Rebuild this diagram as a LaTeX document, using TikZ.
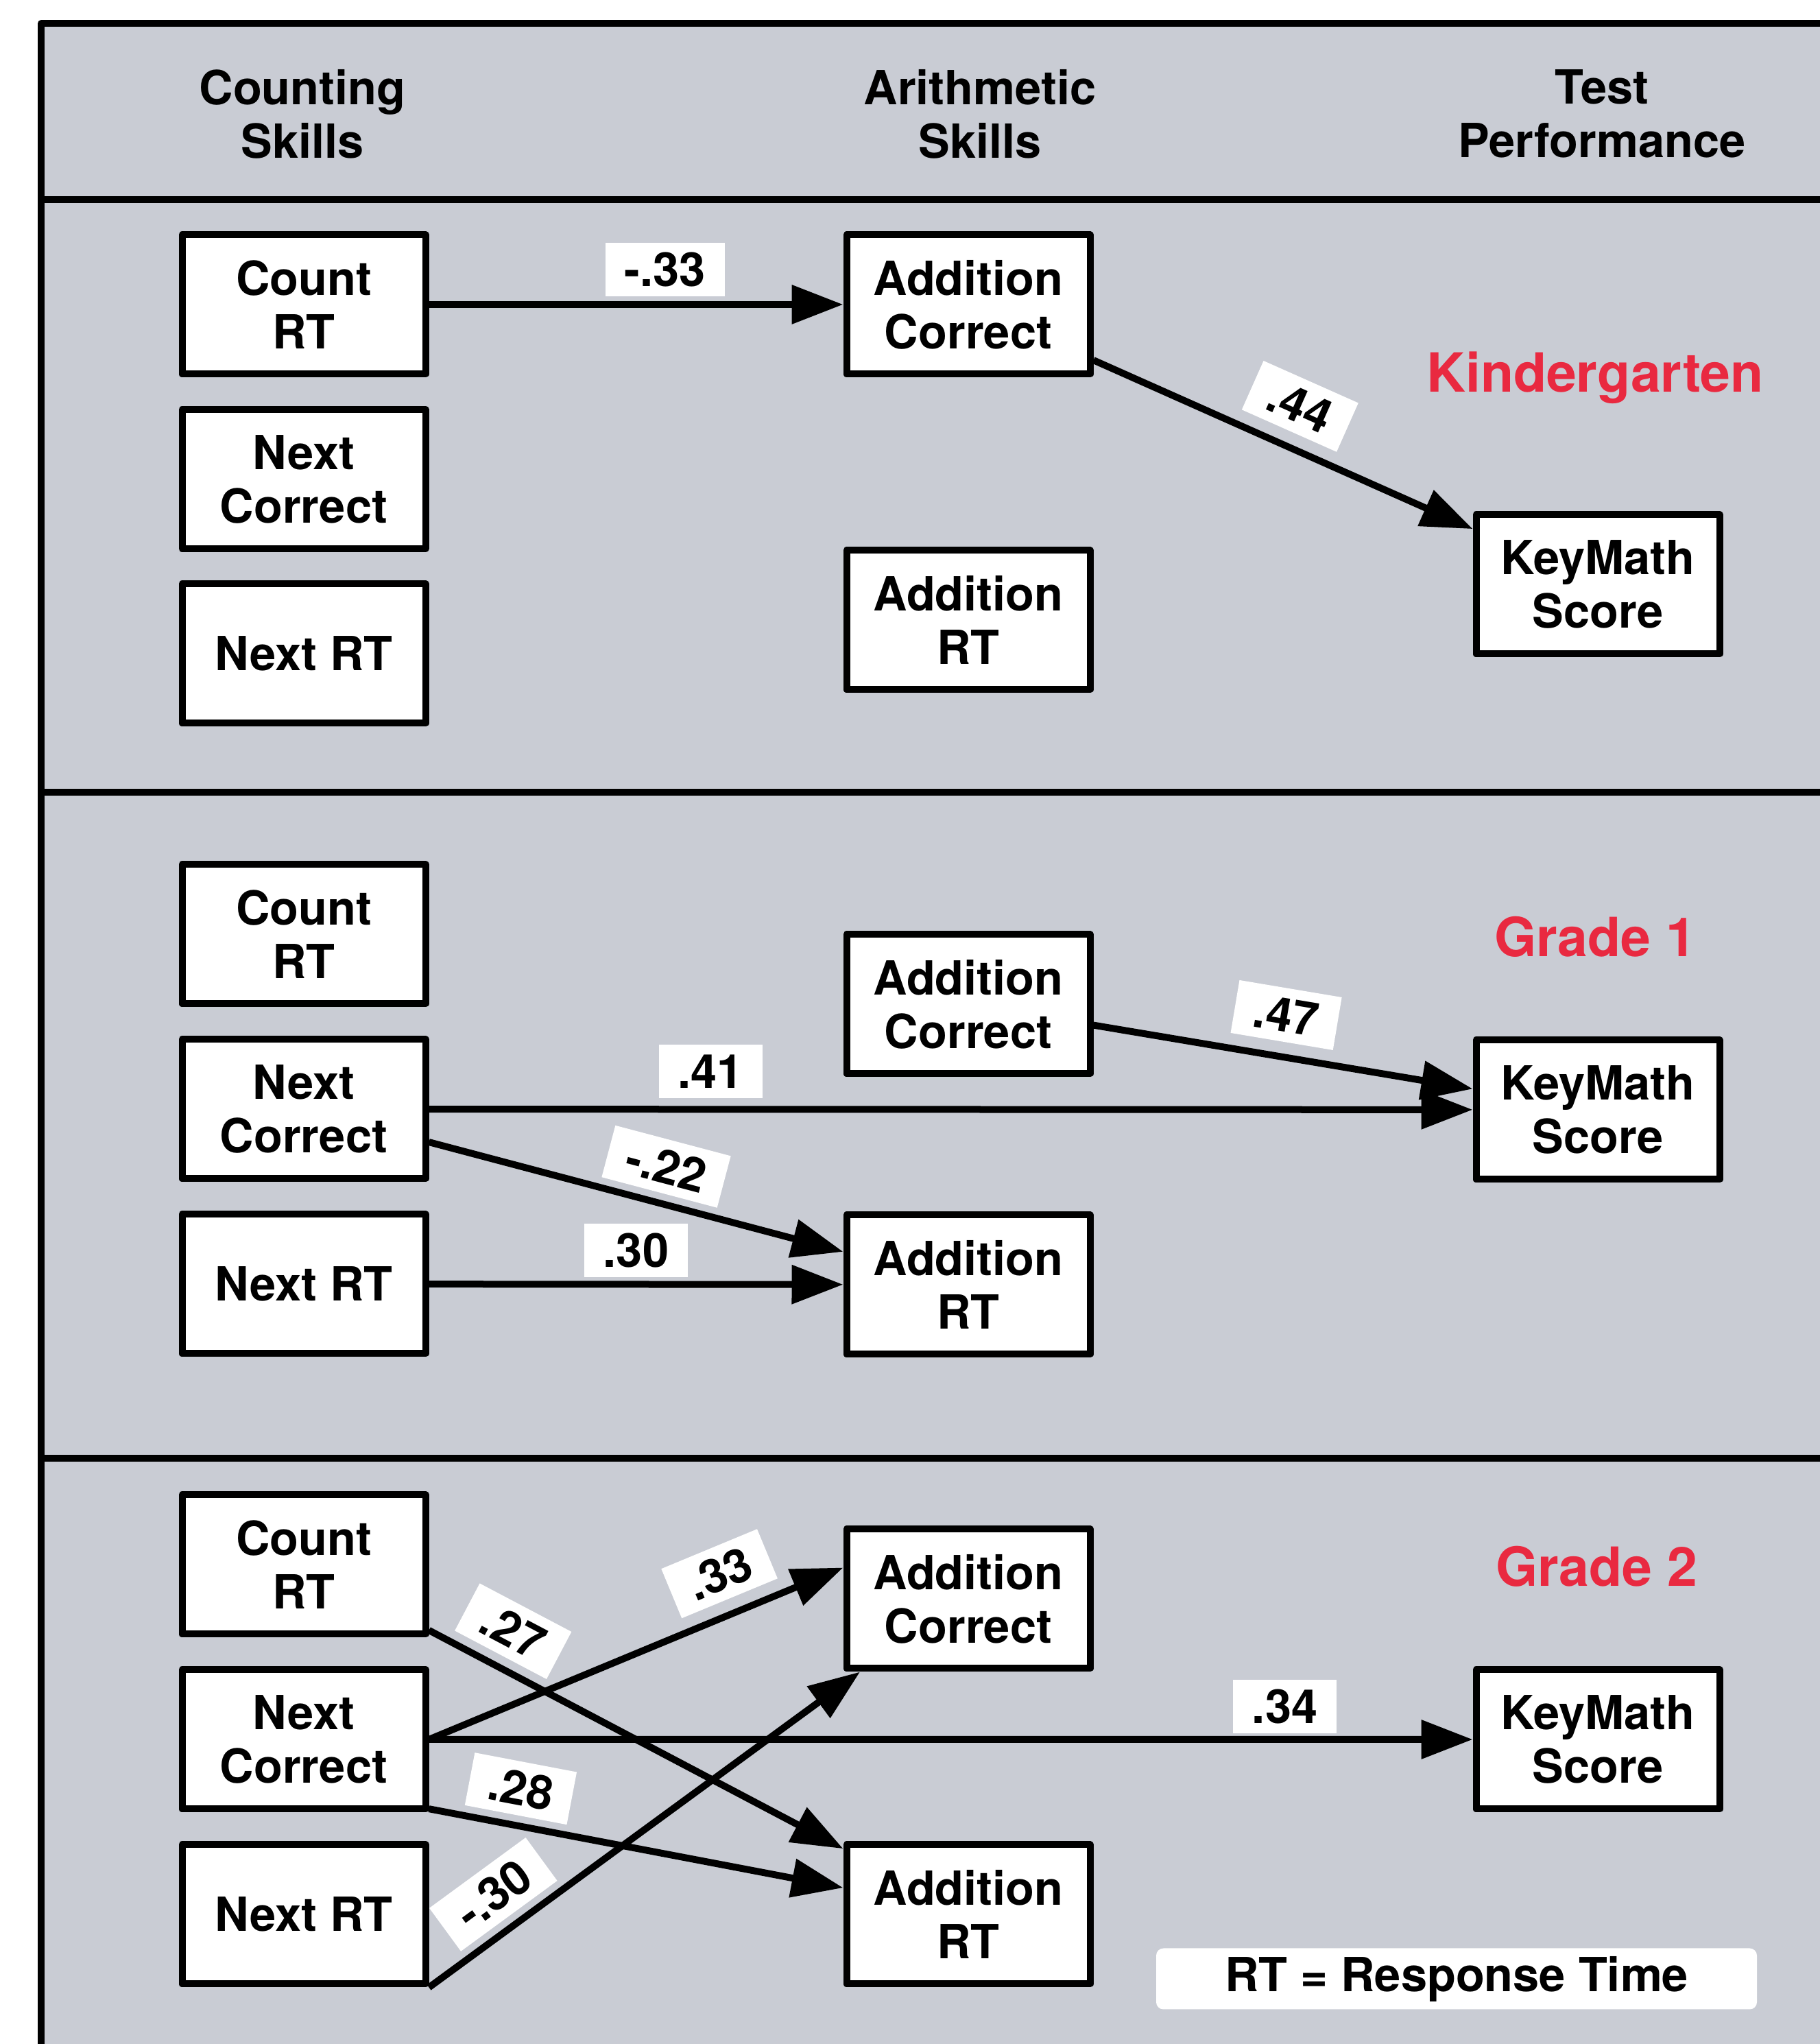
\documentclass[tikz,border=0pt]{standalone}
\usepackage{fontspec}
\setmainfont{TeX Gyre Heros}
\usepackage{xcolor}
\usepackage{tikz}
\usetikzlibrary{arrows.meta, positioning}

\definecolor{panelgray}{RGB}{201,204,212}
\definecolor{gradered}{RGB}{233,41,64}

\begin{document}
\begin{tikzpicture}[
    font=\fontsize{19.5}{22.2}\selectfont\bfseries,
    line width=0.1cm,
    line join=round,
    box/.style={
        draw,
        fill=white,
        align=center,
        inner sep=0pt,
        minimum width=3.55cm,
        minimum height=2.03cm
    },
    head/.style={
        align=center
    },
    grade/.style={
        text=gradered,
        font=\fontsize{22.4}{25}\selectfont\bfseries
    },
    coef/.style={
        fill=white,
        inner xsep=0.28cm,
        inner ysep=0pt,
        outer sep=0pt,
        minimum height=0.78cm
    },
    line/.style={
        -{Triangle[length=0.75cm, width=0.55cm]}
    }
]

\useasboundingbox (0,0) rectangle (26.53,29.80);

% Panel and dividers
\fill[panelgray] (0.60,-0.2) rectangle (26.8,29.455);
\draw (0.60,-0.2) -- (0.60,29.455) -- (26.8,29.455);
\draw (0.55,26.89) -- (26.8,26.89);
\draw (0.55,18.25) -- (26.8,18.25);
\draw (0.55,8.54) -- (26.8,8.54);

% Column heads
\node[head] (hcount) at (4.41,28.14) {Counting\\Skills};
\node[head] (harith) at (14.29,28.14) {Arithmetic\\Skills};
\node[head] (htest) at (23.36,28.14) {Test\\Performance};

% Kindergarten
\node[box] (kcount) at (4.43,25.36) {Count\\RT};
\node[box, below=0.415cm of kcount] (knextc) {Next\\Correct};
\node[box, below=0.415cm of knextc] (knextrt) {Next RT};
\node[box] (kaddc) at (14.12,25.36) {Addition\\Correct};
\node[box] (kaddrt) at (14.12,20.76) {Addition\\RT};
\node[box] (kkey) at (23.30,21.28) {KeyMath\\Score};
\node[grade] (kgrade) at (23.26,24.29) {Kindergarten};

% Grade 1
\node[box] (g1count) at (4.43,16.18) {Count\\RT};
\node[box, below=0.42cm of g1count] (g1nextc) {Next\\Correct};
\node[box, below=0.42cm of g1nextc] (g1nextrt) {Next RT};
\node[box] (g1addc) at (14.12,15.16) {Addition\\Correct};
\node[box] (g1addrt) at (14.12,11.07) {Addition\\RT};
\node[box] (g1key) at (23.30,13.62) {KeyMath\\Score};
\node[grade] (g1grade) at (23.26,16.14) {Grade 1};

% Grade 2
\node[box] (g2count) at (4.43,6.99) {Count\\RT};
\node[box, below=0.42cm of g2count] (g2nextc) {Next\\Correct};
\node[box, below=0.42cm of g2nextc] (g2nextrt) {Next RT};
\node[box] (g2addc) at (14.12,6.49) {Addition\\Correct};
\node[box] (g2addrt) at (14.12,1.89) {Addition\\RT};
\node[box] (g2key) at (23.30,4.44) {KeyMath\\Score};
\node[grade] (g2grade) at (23.28,6.96) {Grade 2};

\node[fill=white, rounded corners=3pt, minimum width=8.76cm, minimum height=0.89cm, inner sep=0pt] (legend) at (21.24,0.95) {RT = Response Time};

% Paths, kindergarten
\draw[line] (kcount) -- node[coef, pos=0.57, above=0.12cm] {-.33} (kaddc);
\draw[line] (kaddc) -- node[coef, sloped, pos=0.5, above=0.22cm] {.44} (kkey);

% Paths, grade 1
\draw[line] (g1addc) -- node[coef, sloped, pos=0.49, above=0.22cm] {.47} (g1key);
\draw[line] (g1nextc) -- node[coef, pos=0.27, above=0.16cm] {.41} (g1key);
\draw[line] (g1nextc) -- node[coef, sloped, pos=0.55, above=0.15cm] {-.22} (g1addrt);
\draw[line] (g1nextrt) -- node[coef, pos=0.5, above=0.10cm] {.30} (g1addrt);

% Paths, grade 2
\draw[line] (g2count) -- node[coef, sloped, pos=0.16, above=0.17cm] {.27} (g2addrt);
\draw[line] (g2nextc.east) -- node[coef, sloped, pos=0.74, above=0.22cm] {.33} (g2addc.166);
\draw[line] (g2nextc.east) -- node[coef, pos=0.82, above=0.09cm] {.34} (g2key);
\draw[line] (g2nextc.-29) -- node[coef, sloped, pos=0.205, above=0.15cm] {.28} (g2addrt.168);
\draw[line] (g2nextrt.south east) -- node[coef, sloped, pos=0.20, above=0.15cm] {-.30} (g2addc.214);

\end{tikzpicture}
\end{document}
